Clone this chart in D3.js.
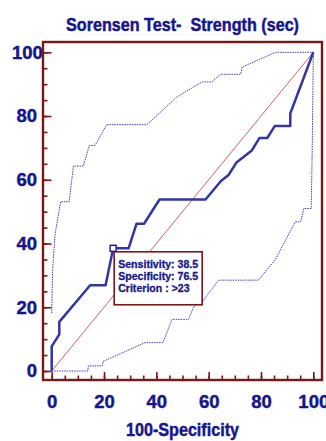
<!DOCTYPE html>
<html>
<head>
<meta charset="utf-8">
<script src="https://cdn.jsdelivr.net/npm/d3@7"></script>
<style>
  body { margin: 0; background: #fff; }
  text { font-family: "Liberation Sans", Arial, sans-serif; font-weight: bold; fill: #16168c; stroke: #16168c; stroke-width: 0.45px; }
</style>
</head>
<body>
<div id="vis"></div>
<script>
var width = 326,
    height = 441;

// ROC curve (100-Specificity, Sensitivity)
var rocX = [0, 0, 2.9, 2.9, 14.7, 20.6, 23.5, 29.4, 32.4, 35.3, 41.2, 58.8, 64.7, 67.6, 70.6, 76.5, 79.4, 82.4, 85.3, 91.2, 91.2, 100];
var rocY = [0, 7.7, 11.5, 15.4, 26.9, 26.9, 38.5, 38.5, 46.2, 46.2, 53.8, 53.8, 59.6, 61.5, 65.4, 69.2, 73.1, 73.1, 76.9, 76.9, 80.8, 100];

// upper confidence bound
var upX = [0, 0.3, 0.6, 1.3, 3.4, 6.7, 8.3, 12.1, 14.4, 16.6, 21, 36.4, 47.9, 57.5, 61.3, 64.5, 72.2, 72.8, 85.6, 100];
var upY = [18.2, 30, 35, 43, 53.1, 53.1, 64.3, 64.3, 70.8, 70.8, 77.3, 77.3, 86, 90.7, 90.7, 93.1, 93.1, 95.4, 100, 100];

// lower confidence bound
var loX = [0, 13.8, 14, 19.4, 19.6, 35.7, 42.5, 46, 52.3, 54.3, 58.1, 63.8, 79, 85.5, 93.1, 95.2, 96.4, 99.2, 99.6, 100];
var loY = [0, 0, 1.6, 1.6, 3, 8.9, 8.9, 16.2, 16.2, 20.2, 22.3, 28.5, 28.5, 35, 46.8, 46.8, 51, 51, 70, 100];

var criterion = {spec: 76.5, sens: 38.5, label: ">23"};

var xTicks = [0, 20, 40, 60, 80, 100];
var yTicks = [0, 20, 40, 60, 80, 100];

var frameColor = "#7d1616";
var lineColor = "#3434a6";

var svg = d3.select("#vis").append("svg")
    .attr("width", width)
    .attr("height", height);

var x = d3.scaleLinear().domain([0, 100]).range([51.7, 313.3]);
var y = d3.scaleLinear().domain([0, 100]).range([371, 52.3]);

var frame = {left: 43, top: 42, right: 322, bottom: 380};

// title
svg.append("text")
    .attr("x", (frame.left + frame.right) / 2)
    .attr("y", 31)
    .attr("text-anchor", "middle")
    .attr("textLength", 233)
    .attr("lengthAdjust", "spacingAndGlyphs")
    .style("white-space", "pre")
    .style("font-size", "17.5px")
    .text("Sorensen Test-  Strength (sec)");

// minor ticks
var minor = d3.range(0, 101, 5);
svg.append("g")
    .attr("transform", "translate(" + frame.left + ",0)")
    .call(d3.axisLeft(y).tickValues(minor).tickSizeInner(-4.5).tickSizeOuter(0).tickFormat(""))
    .call(function(g) { g.select(".domain").remove(); });
svg.append("g")
    .attr("transform", "translate(0," + frame.bottom + ")")
    .call(d3.axisBottom(x).tickValues(minor).tickSizeInner(-4.5).tickSizeOuter(0).tickFormat(""))
    .call(function(g) { g.select(".domain").remove(); });

// major ticks + labels
var yAxis = svg.append("g")
    .attr("transform", "translate(" + frame.left + ",0)")
    .call(d3.axisLeft(y).tickValues(yTicks).tickSizeInner(-8.5).tickSizeOuter(0).tickPadding(6))
    .call(function(g) { g.select(".domain").remove(); });

var xAxis = svg.append("g")
    .attr("transform", "translate(0," + frame.bottom + ")")
    .call(d3.axisBottom(x).tickValues(xTicks).tickSizeInner(-8).tickSizeOuter(0).tickPadding(15))
    .call(function(g) { g.select(".domain").remove(); });

svg.selectAll(".tick line")
    .attr("stroke", frameColor)
    .attr("stroke-width", 1.6);

svg.selectAll(".tick text")
    .attr("font-family", null)
    .attr("font-size", null)
    .attr("fill", null)
    .style("font-size", "18.5px");

// keep the top y label inside the window
yAxis.selectAll(".tick text").each(function() {
  var b = this.getBBox();
  if (b.x + frame.left < 12) {
    d3.select(this).attr("text-anchor", "start").attr("x", 12 - frame.left);
  }
});

// x axis title
svg.append("text")
    .attr("x", (frame.left + frame.right) / 2)
    .attr("y", 436)
    .attr("text-anchor", "middle")
    .attr("textLength", 113)
    .attr("lengthAdjust", "spacingAndGlyphs")
    .style("font-size", "17.5px")
    .text("100-Specificity");

// frame
svg.append("rect")
    .attr("x", frame.left)
    .attr("y", frame.top)
    .attr("width", frame.right - frame.left)
    .attr("height", frame.bottom - frame.top)
    .attr("fill", "none")
    .attr("stroke", frameColor)
    .attr("stroke-width", 2.4);

var line = d3.line()
    .x(function(d) { return x(d[0]); })
    .y(function(d) { return y(d[1]); });

// diagonal reference
svg.append("path")
    .attr("d", line([[0, 0], [100, 100]]))
    .attr("fill", "none")
    .attr("stroke", "#b83a3a")
    .attr("stroke-width", 0.8);

// confidence bounds
[[upX, upY], [loX, loY]].forEach(function(s) {
  svg.append("path")
      .attr("d", line(d3.zip(s[0], s[1])))
      .attr("fill", "none")
      .attr("stroke", "#3c3cb4")
      .attr("stroke-width", 1)
      .attr("stroke-dasharray", "1.5,1");
});

// ROC curve
svg.append("path")
    .attr("d", line(d3.zip(rocX, rocY)))
    .attr("fill", "none")
    .attr("stroke", lineColor)
    .attr("stroke-width", 2.5)
    .attr("stroke-linejoin", "round");

// criterion marker + box
var px = x(100 - criterion.spec),
    py = y(criterion.sens);

svg.append("rect")
    .attr("x", px - 3)
    .attr("y", py - 3)
    .attr("width", 6)
    .attr("height", 6)
    .attr("fill", "#fff")
    .attr("stroke", "#16168c")
    .attr("stroke-width", 1.4);

var box = svg.append("g")
    .attr("transform", "translate(" + (px + 1) + "," + (py + 3.5) + ")");

box.append("rect")
    .attr("width", 88)
    .attr("height", 53)
    .attr("fill", "#fff")
    .attr("stroke", frameColor)
    .attr("stroke-width", 1.6);

var lines = ["Sensitivity: " + criterion.sens, "Specificity: " + criterion.spec, "Criterion : " + criterion.label];
var info = box.selectAll("text.info")
    .data(lines)
    .enter()
    .append("text")
    .attr("class", "info")
    .attr("x", 4)
    .attr("y", function(d, i) { return 16 + i * 12.3; })
    .style("font-size", "10.8px")
    .style("stroke-width", "0.3px")
    .text(function(d) { return d; });

// size the box text so the first line fills the box like the original
var w0 = info.node().getComputedTextLength();
if (w0 > 0) {
  info.style("font-size", Math.min(12.5, 10.8 * 80 / w0) + "px");
}
</script>
</body>
</html>
